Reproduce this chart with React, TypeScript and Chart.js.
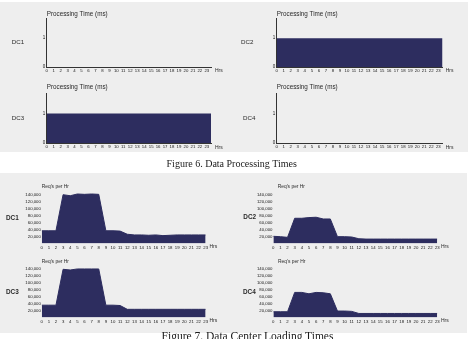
import { useEffect, useRef } from "react";
import { Chart, registerables } from "chart.js";

Chart.register(...registerables);

const PAGE_W = 471;
const PAGE_H = 339;

// Hour of day shown on every x axis
const HOURS = [0, 1, 2, 3, 4, 5, 6, 7, 8, 9, 10, 11, 12, 13, 14, 15, 16, 17, 18, 19, 20, 21, 22, 23];
// The processing-time step line holds its last value until the end of the day
const DAY_END = 24;

// Figure 6: processing time (ms) per hour
const PROC_DC1 = [0, 0, 0, 0, 0, 0, 0, 0, 0, 0, 0, 0, 0, 0, 0, 0, 0, 0, 0, 0, 0, 0, 0, 0];
const PROC_DC2 = [1, 1, 1, 1, 1, 1, 1, 1, 1, 1, 1, 1, 1, 1, 1, 1, 1, 1, 1, 1, 1, 1, 1, 1];
const PROC_DC3 = [1, 1, 1, 1, 1, 1, 1, 1, 1, 1, 1, 1, 1, 1, 1, 1, 1, 1, 1, 1, 1, 1, 1, 1];
const PROC_DC4 = [0, 0, 0, 0, 0, 0, 0, 0, 0, 0, 0, 0, 0, 0, 0, 0, 0, 0, 0, 0, 0, 0, 0, 0];
const PROC_TICKS = [0, 1];

// Figure 7: requests per hour
const REQ_DC1 = [37000, 37000, 37000, 141000, 138000, 143000, 142000, 143000, 142000, 37000, 37000, 36000, 27000, 25000, 25000, 24000, 25000, 23000, 24000, 25000, 25000, 25000, 25000, 25000];
const REQ_DC2 = [21000, 20000, 18000, 73000, 73000, 75000, 76000, 71000, 71000, 20000, 20000, 19000, 14000, 13000, 13000, 13000, 13000, 13000, 13000, 13000, 13000, 13000, 13000, 13000];
const REQ_DC3 = [36000, 36000, 36000, 140000, 138000, 141000, 141000, 141000, 141000, 36000, 36000, 35000, 24000, 24000, 24000, 24000, 24000, 24000, 24000, 24000, 24000, 24000, 24000, 24000];
const REQ_DC4 = [17000, 17000, 17000, 73000, 73000, 69000, 73000, 72000, 69000, 19000, 19000, 18000, 12000, 12000, 12000, 12000, 12000, 12000, 12000, 12000, 12000, 12000, 12000, 12000];
const REQ_TICKS = [20000, 40000, 60000, 80000, 100000, 120000, 140000];

const NAVY = "#2d2d5f";
const AXIS = "#333333";
const TEXT = "#2a2a2a";
const TICK_TEXT = "#151515";
const SANS = "'Liberation Sans', Arial, sans-serif";
const SERIF = "'Liberation Serif', 'Times New Roman', serif";

// Room reserved for tick labels beside / below each plot area
const Y_LABEL_W = 30;
const X_LABEL_H = 9;

type Kind = "proc" | "req";
type Box = { left: number; top: number; right: number; bottom: number };
type Panel = {
  id: string;
  name: string;
  kind: Kind;
  values: number[];
  area: Box;
  nameX: number;
  nameY: number;
  titleX: number;
  titleY: number;
  hrsX: number;
  hrsY: number;
};

const PANELS: Panel[] = [
  { id: "p1", name: "DC1", kind: "proc", values: PROC_DC1, area: { left: 46.7, top: 18, right: 211, bottom: 67 }, nameX: 11.7, nameY: 42.7, titleX: 46.7, titleY: 14, hrsX: 215, hrsY: 70.5 },
  { id: "p2", name: "DC2", kind: "proc", values: PROC_DC2, area: { left: 276.7, top: 18, right: 442.5, bottom: 67 }, nameX: 241, nameY: 42.7, titleX: 276.7, titleY: 14, hrsX: 445.7, hrsY: 70.5 },
  { id: "p3", name: "DC3", kind: "proc", values: PROC_DC3, area: { left: 46.7, top: 93, right: 211, bottom: 143 }, nameX: 11.7, nameY: 118.3, titleX: 46.7, titleY: 87, hrsX: 215, hrsY: 147.5 },
  { id: "p4", name: "DC4", kind: "proc", values: PROC_DC4, area: { left: 276.7, top: 93, right: 442.5, bottom: 143 }, nameX: 243, nameY: 118.3, titleX: 276.7, titleY: 87, hrsX: 445.7, hrsY: 147.5 },
  { id: "r1", name: "DC1", kind: "req", values: REQ_DC1, area: { left: 41.7, top: 188.1, right: 205.7, bottom: 243.6 }, nameX: 6, nameY: 218, titleX: 41.7, titleY: 187, hrsX: 209.5, hrsY: 246.5 },
  { id: "r2", name: "DC2", kind: "req", values: REQ_DC2, area: { left: 273.3, top: 188.1, right: 437.3, bottom: 243.6 }, nameX: 243.3, nameY: 217.7, titleX: 277.7, titleY: 187, hrsX: 441, hrsY: 246.5 },
  { id: "r3", name: "DC3", kind: "req", values: REQ_DC3, area: { left: 41.7, top: 262.4, right: 205.7, bottom: 317.6 }, nameX: 6, nameY: 292.3, titleX: 41.7, titleY: 261.7, hrsX: 209.5, hrsY: 320.7 },
  { id: "r4", name: "DC4", kind: "req", values: REQ_DC4, area: { left: 273.3, top: 262.4, right: 437.3, bottom: 317.6 }, nameX: 243, nameY: 292.3, titleX: 278, titleY: 261.7, hrsX: 441, hrsY: 320.7 },
];

// Draws the panel name, the axis heading and the "Hrs" unit next to the x axis
const panelText = {
  id: "panelText",
  afterDraw(chart: any, _args: any, opts: any) {
    const { ctx } = chart;
    ctx.save();
    ctx.fillStyle = TEXT;
    ctx.textBaseline = "middle";
    ctx.textAlign = "left";
    ctx.font = opts.kind === "proc" ? `6.2px ${SANS}` : `bold 6.4px ${SANS}`;
    ctx.fillText(opts.name, opts.nameX, opts.nameY);
    ctx.font = opts.kind === "proc" ? `6.3px ${SANS}` : `4.9px ${SANS}`;
    ctx.fillText(opts.title, opts.titleX, opts.titleY);
    ctx.font = `5px ${SANS}`;
    ctx.fillText("Hrs", opts.hrsX, opts.hrsY);
    ctx.restore();
  },
};

function buildConfig(p: Panel): any {
  const isProc = p.kind === "proc";
  const points = HOURS.map((h, i) => ({ x: h, y: p.values[i] }));
  if (isProc) points.push({ x: DAY_END, y: p.values[p.values.length - 1] });
  const yTicks = isProc ? PROC_TICKS : REQ_TICKS;

  return {
    type: "line",
    data: {
      datasets: [
        {
          data: points,
          borderColor: isProc ? "rgba(0,0,0,0)" : NAVY,
          backgroundColor: NAVY,
          borderWidth: isProc ? 0 : 1,
          fill: "origin",
          pointRadius: 0,
          tension: 0,
          stepped: isProc ? "after" : false,
        },
      ],
    },
    options: {
      responsive: false,
      animation: false,
      devicePixelRatio: 1,
      events: [],
      layout: {
        padding: {
          left: p.area.left - Y_LABEL_W,
          top: p.area.top,
          right: PAGE_W - p.area.right,
          bottom: PAGE_H - p.area.bottom - X_LABEL_H,
        },
      },
      plugins: {
        legend: { display: false },
        tooltip: { enabled: false },
        title: { display: false },
        panelText: {
          kind: p.kind,
          name: p.name,
          nameX: p.nameX,
          nameY: p.nameY,
          title: isProc ? "Processing Time (ms)" : "Req's per Hr",
          titleX: p.titleX,
          titleY: p.titleY,
          hrsX: p.hrsX,
          hrsY: p.hrsY,
        },
      },
      scales: {
        x: {
          type: "linear",
          min: 0,
          max: isProc ? 23.6 : 23,
          grid: { display: false, drawTicks: false },
          border: { display: isProc, color: AXIS, width: 1 },
          ticks: {
            stepSize: 1,
            autoSkip: false,
            includeBounds: false,
            maxRotation: 0,
            minRotation: 0,
            padding: 1.5,
            color: TICK_TEXT,
            font: { family: SANS, size: 4.3 },
            callback: (v: number) => (HOURS.includes(v) ? String(v) : ""),
          },
          afterFit: (s: any) => {
            s.height = X_LABEL_H;
            s.paddingLeft = 0;
            s.paddingRight = 0;
          },
        },
        y: {
          type: "linear",
          min: 0,
          // 160,000 keeps the 20,000 steps whole; the top label is left blank
          max: isProc ? 1.7 : 160000,
          grid: { display: false, drawTicks: false },
          border: { display: isProc, color: AXIS, width: 1 },
          ticks: {
            stepSize: isProc ? 1 : 20000,
            autoSkip: false,
            includeBounds: false,
            padding: isProc ? 1.5 : 0.8,
            color: TICK_TEXT,
            font: { family: SANS, size: isProc ? 4.5 : 4.3 },
            callback: (v: number) => (yTicks.includes(v) ? v.toLocaleString("en-US") : ""),
          },
          afterFit: (s: any) => {
            s.width = Y_LABEL_W;
            s.paddingTop = 0;
            s.paddingBottom = 0;
          },
        },
      },
    },
    plugins: [panelText],
  };
}

function PanelChart({ panel }: { panel: Panel }) {
  const ref = useRef<HTMLCanvasElement>(null);
  useEffect(() => {
    if (!ref.current) return;
    const chart = new Chart(ref.current, buildConfig(panel));
    return () => chart.destroy();
  }, [panel]);
  return (
    <canvas
      ref={ref}
      width={PAGE_W}
      height={PAGE_H}
      style={{ position: "absolute", left: 0, top: 0, width: PAGE_W, height: PAGE_H }}
    />
  );
}

export default function App() {
  return (
    <div
      style={{
        position: "absolute",
        left: 0,
        top: 0,
        width: PAGE_W,
        height: PAGE_H,
        overflow: "hidden",
        background: "#ffffff",
      }}
    >
      <div style={{ position: "absolute", left: 0, top: 2, width: 468, height: 150, background: "#eeeeee" }} />
      <div style={{ position: "absolute", left: 0, top: 173, width: 467, height: 160, background: "#eeeeee" }} />
      {PANELS.map((p) => (
        <PanelChart key={p.id} panel={p} />
      ))}
      <div
        style={{
          position: "absolute",
          left: 231.7,
          top: 159.1,
          transform: "translateX(-50%)",
          whiteSpace: "nowrap",
          font: `10px/10px ${SERIF}`,
          color: "#1a1a1a",
        }}
      >
        Figure 6. Data Processing Times
      </div>
      <div
        style={{
          position: "absolute",
          left: 247.5,
          top: 331,
          transform: "translateX(-50%)",
          whiteSpace: "nowrap",
          font: `11.5px/11.5px ${SERIF}`,
          color: "#1a1a1a",
        }}
      >
        Figure 7. Data Center Loading Times
      </div>
    </div>
  );
}
